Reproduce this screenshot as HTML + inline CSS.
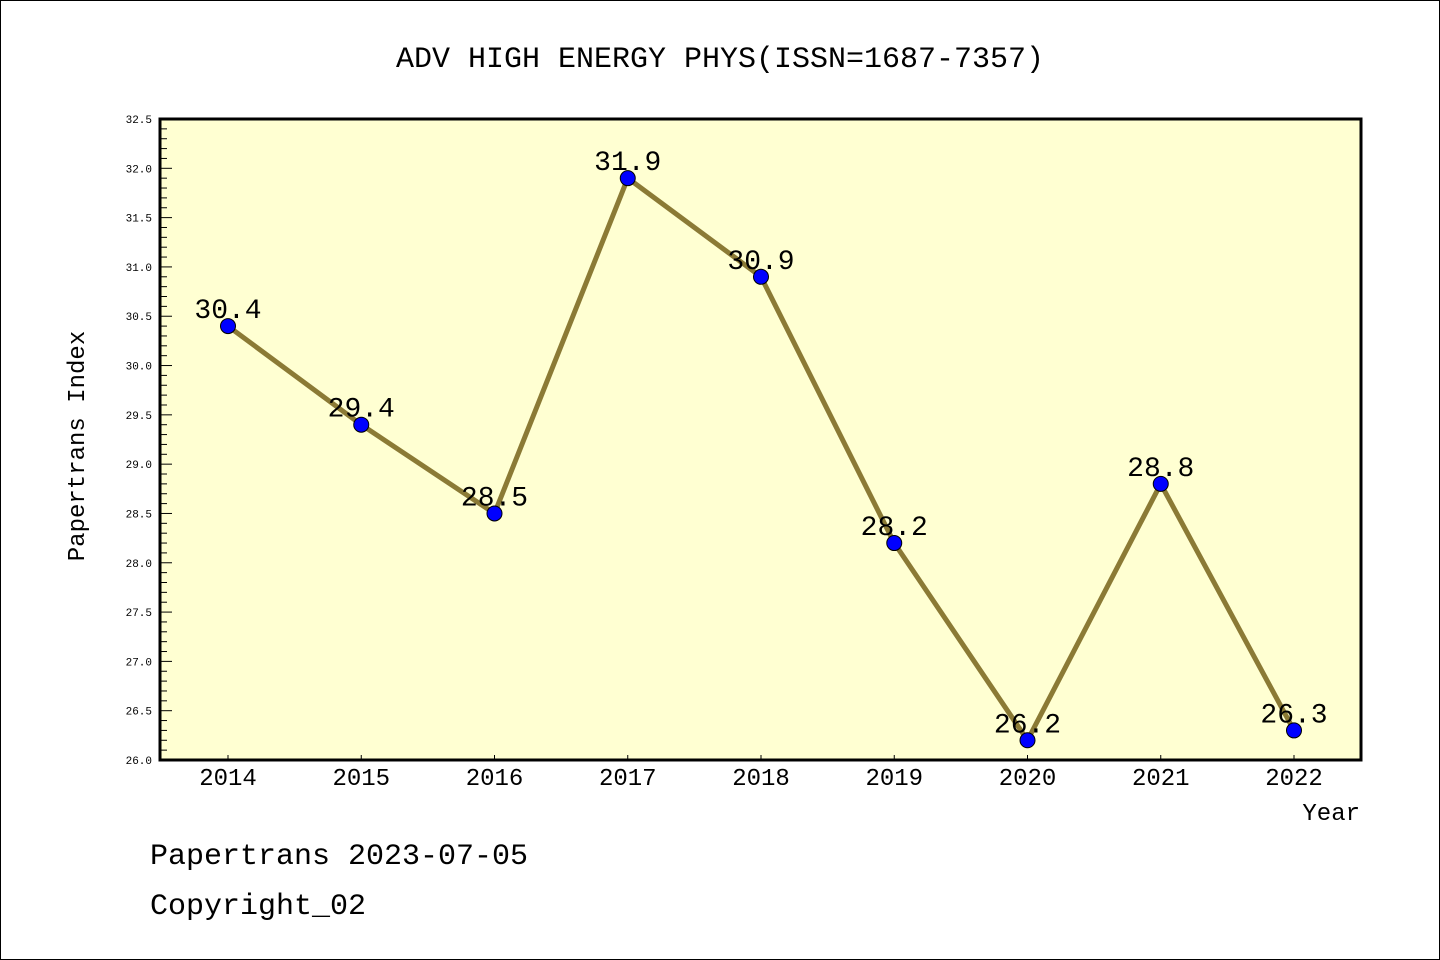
<!DOCTYPE html>
<html><head><meta charset="utf-8"><style>
html,body{margin:0;padding:0;background:#fff}
svg{display:block}
text{font-family:"Liberation Mono","DejaVu Sans Mono",monospace}
</style></head><body>
<svg id="c" width="1440" height="960" xmlns="http://www.w3.org/2000/svg">
<rect x="0.5" y="0.5" width="1439" height="959" fill="#fff" stroke="#000"/>
<text x="720" y="67" font-size="30" text-anchor="middle">ADV HIGH ENERGY PHYS(ISSN=1687-7357)</text>
<rect x="160" y="119" width="1201" height="641" fill="#ffffd2"/>
<g id="yticks"></g>
<g id="xticks"></g>
<g id="series"></g>
<rect x="160" y="119" width="1201" height="641" fill="none" stroke="#000" stroke-width="3"/>
<text transform="translate(84,446) rotate(-90)" font-size="24" text-anchor="middle">Papertrans Index</text>
<text x="1360" y="820" font-size="24" text-anchor="end">Year</text>
<text x="150" y="864" font-size="30">Papertrans 2023-07-05</text>
<text x="150" y="914" font-size="30">Copyright_02</text>
</svg>
<script>
const years = [2014,2015,2016,2017,2018,2019,2020,2021,2022];
const values = [30.4,29.4,28.5,31.9,30.9,28.2,26.2,28.8,26.3];
const labels = ["30.4","29.4","28.5","31.9","30.9","28.2","26.2","28.8","26.3"];
const yTicks = ["26.0","26.5","27.0","27.5","28.0","28.5","29.0","29.5","30.0","30.5","31.0","31.5","32.0","32.5"];
const NS="http://www.w3.org/2000/svg";
const L=160,R=1361,T=119,B=760,yMin=26,yMax=32.5;
const xS=y=>228+(y-2014)*(1294-228)/8;
const yS=v=>B-(v-yMin)/(yMax-yMin)*(B-T);
function mk(tag,attrs,parent,txt){const e=document.createElementNS(NS,tag);for(const k in attrs)e.setAttribute(k,attrs[k]);if(txt!==undefined)e.textContent=txt;parent.appendChild(e);return e;}
const yg=document.getElementById('yticks');
for(let i=0;i<=65;i++){const v=yMin+i*0.1;const yy=yS(v);const major=i%5===0;
 const t=mk('line',{x1:L,x2:L+(major?12:7),y1:yy,y2:yy,stroke:'#000','stroke-width':1},yg);
 
 }
yTicks.forEach(s=>{const t=mk('text',{x:152,y:yS(parseFloat(s))+4,'font-size':11,'text-anchor':'end','font-family':'DejaVu Sans, sans-serif'},yg,s);
 
 });
const xg=document.getElementById('xticks');
years.forEach(y=>{const x=xS(y);
 const t=mk('line',{x1:x,x2:x,y1:B,y2:B-5,stroke:'#000','stroke-width':1},xg);
 
 
 const l=mk('text',{x:x,y:785,'font-size':24,'text-anchor':'middle'},xg,String(y));
 
 });
const sg=document.getElementById('series');
const pl=mk('polyline',{points:years.map((y,i)=>xS(y)+','+yS(values[i])).join(' '),fill:'none',stroke:'#8b7a35','stroke-width':5},sg);


years.forEach((y,i)=>{const x=xS(y),yy=yS(values[i]);
 const c=mk('circle',{cx:x,cy:yy,r:7.5,fill:'#0000ff',stroke:'#000','stroke-width':1},sg);
 
 
 const t=mk('text',{x:x,y:yy-8,'font-size':28,'text-anchor':'middle'},sg,labels[i]);
 
 });
</script>
</body></html>
